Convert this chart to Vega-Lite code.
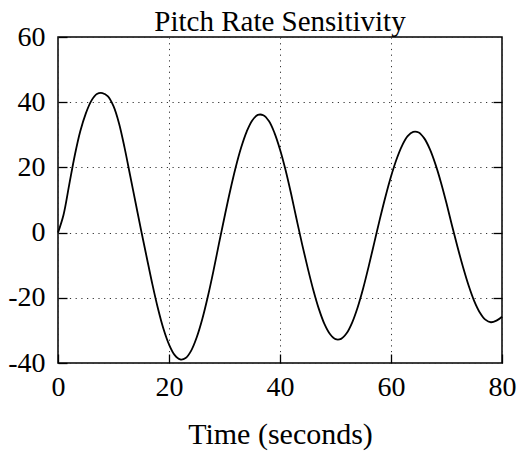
{
  "$schema": "https://vega.github.io/schema/vega-lite/v6.json",
  "width": 444,
  "height": 326,
  "autosize": {"type": "none"},
  "padding": {"left": 58, "top": 37, "right": 21, "bottom": 89},
  "background": "white",
  "title": {"text": "Pitch Rate Sensitivity", "font": "Liberation Serif", "fontSize": 29, "fontWeight": "normal", "color": "black", "frame": "group", "anchor": "middle", "baseline": "alphabetic", "offset": 0, "dy": 37},
  "config": {
    "view": {"stroke": "black", "strokeWidth": 1.5},
    "axis": {
      "labelFont": "Liberation Serif", "labelFontSize": 28, "labelColor": "black",
      "titleFont": "Liberation Serif", "titleFontSize": 30, "titleFontWeight": "normal", "titleColor": "black",
      "domain": false, "tickColor": "black", "tickWidth": 1.3, "tickSize": -9,
      "gridColor": "#333", "gridDash": [1.2, 4.5], "gridWidth": 1, "gridOpacity": 1
    }
  },
  "data": {"values": [
    {"time": 0, "value": 0}, {"time": 1, "value": 5.5}, {"time": 2, "value": 14.5}, {"time": 3, "value": 23.5},
    {"time": 4, "value": 31}, {"time": 5, "value": 36.5}, {"time": 6, "value": 40.4}, {"time": 7, "value": 42.5},
    {"time": 8, "value": 42.8}, {"time": 9, "value": 41.8}, {"time": 10, "value": 38.8}, {"time": 11, "value": 33.5},
    {"time": 12, "value": 26}, {"time": 13, "value": 17.5}, {"time": 14, "value": 9}, {"time": 15, "value": 0.5},
    {"time": 16, "value": -7.7}, {"time": 17, "value": -15.8}, {"time": 18, "value": -23.2}, {"time": 19, "value": -29.5},
    {"time": 20, "value": -34.3}, {"time": 21, "value": -37.5}, {"time": 22, "value": -38.9}, {"time": 23, "value": -38.5},
    {"time": 24, "value": -36.2}, {"time": 25, "value": -32.1}, {"time": 26, "value": -26.5}, {"time": 27, "value": -19.6},
    {"time": 28, "value": -11.8}, {"time": 29, "value": -3.4}, {"time": 30, "value": 4.8}, {"time": 31, "value": 12.7},
    {"time": 32, "value": 19.9}, {"time": 33, "value": 26.1}, {"time": 34, "value": 31}, {"time": 35, "value": 34.4},
    {"time": 36, "value": 36.1}, {"time": 37, "value": 36}, {"time": 38, "value": 34.2}, {"time": 39, "value": 30.6},
    {"time": 40, "value": 25.5}, {"time": 41, "value": 19.2}, {"time": 42, "value": 11.9}, {"time": 43, "value": 4},
    {"time": 44, "value": -3.7}, {"time": 45, "value": -10.9}, {"time": 46, "value": -17.6}, {"time": 47, "value": -23.4},
    {"time": 48, "value": -28}, {"time": 49, "value": -31.1}, {"time": 50, "value": -32.7}, {"time": 51, "value": -32.6},
    {"time": 52, "value": -30.9}, {"time": 53, "value": -27.6}, {"time": 54, "value": -22.9}, {"time": 55, "value": -17},
    {"time": 56, "value": -10.2}, {"time": 57, "value": -3}, {"time": 58, "value": 4.2}, {"time": 59, "value": 11},
    {"time": 60, "value": 17.2}, {"time": 61, "value": 22.5}, {"time": 62, "value": 26.7}, {"time": 63, "value": 29.6},
    {"time": 64, "value": 30.9}, {"time": 65, "value": 30.7}, {"time": 66, "value": 28.9}, {"time": 67, "value": 25.6},
    {"time": 68, "value": 21}, {"time": 69, "value": 15.4}, {"time": 70, "value": 9}, {"time": 71, "value": 2.1},
    {"time": 72, "value": -4.5}, {"time": 73, "value": -10.7}, {"time": 74, "value": -16.3}, {"time": 75, "value": -21},
    {"time": 76, "value": -24.5}, {"time": 77, "value": -26.7}, {"time": 78, "value": -27.5}, {"time": 79, "value": -27},
    {"time": 80, "value": -25.8}
  ]},
  "layer": [
    {
      "mark": {"type": "line", "color": "black", "strokeWidth": 1.8, "interpolate": "catmull-rom"},
      "encoding": {
        "x": {"field": "time", "type": "quantitative", "scale": {"domain": [0, 80], "nice": false},
              "axis": {"orient": "bottom", "values": [0, 20, 40, 60, 80], "title": "Time (seconds)", "grid": true, "labelPadding": 19, "titlePadding": 18, "labelFlush": false, "labelExpr": "toString(datum.value)"}},
        "y": {"field": "value", "type": "quantitative", "scale": {"domain": [-40, 60], "nice": false},
              "axis": {"orient": "left", "values": [-40, -20, 0, 20, 40, 60], "title": null, "grid": true, "labelPadding": 22, "labelFlush": false, "labelExpr": "toString(datum.value)"}}
      }
    },
    {
      "mark": {"type": "line", "opacity": 0},
      "encoding": {
        "x": {"field": "time", "type": "quantitative"},
        "y": {"field": "value", "type": "quantitative",
              "axis": {"orient": "right", "values": [-20, 0, 20, 40], "labels": false, "title": null, "grid": false}}
      }
    }
  ],
  "resolve": {"axis": {"y": "independent"}}
}
